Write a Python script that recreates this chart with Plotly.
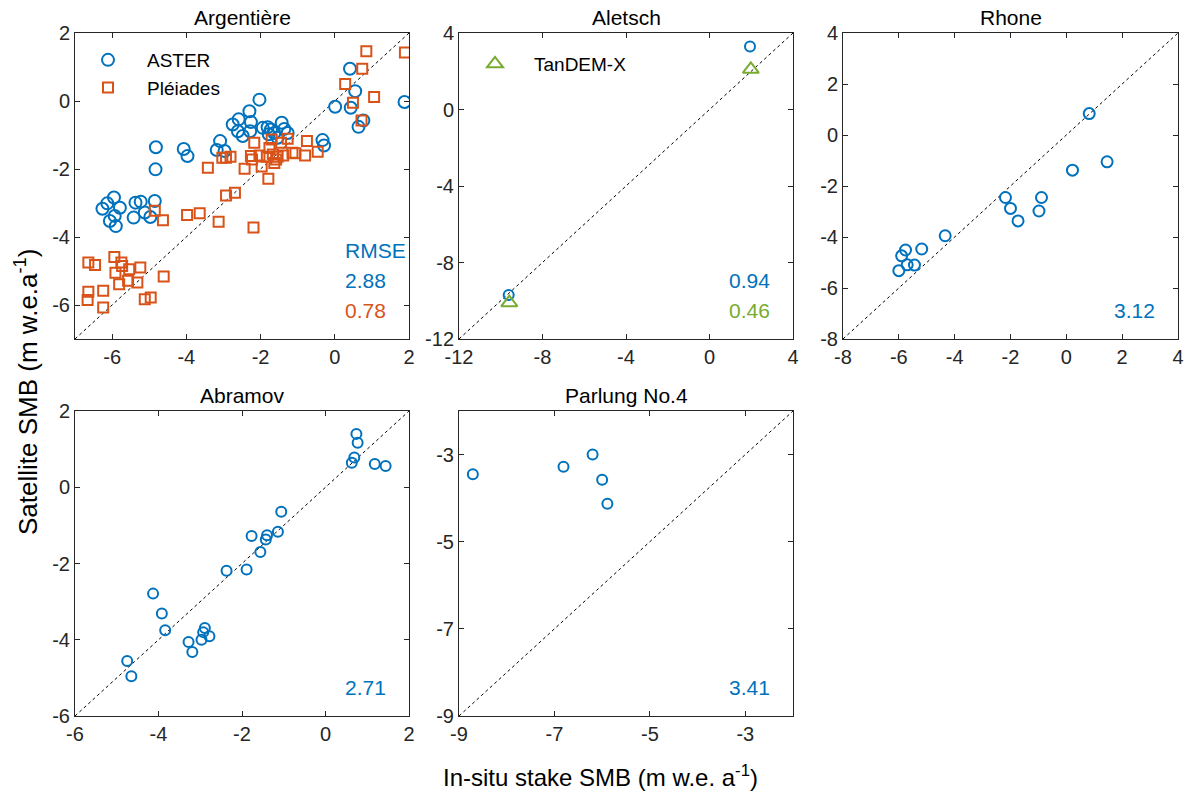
import plotly.graph_objects as go

BLUE = "#0072BD"
ORANGE = "#D95319"
GREEN = "#77AC30"
AX = "#262626"
FONT = "Liberation Sans, Arial, sans-serif"

# ---------------- data ----------------
panel_titles = ["Argentière", "Aletsch", "Rhone", "Abramov", "Parlung No.4"]

# Argentière
arg_aster_x = [-6.26, -6.13, -5.95, -6.06, -5.90, -5.93, -5.79, -5.42, -5.37, -5.23, -5.12, -4.97,
               -4.85, -4.82, -4.83, -4.07, -3.97, -3.09, -3.18, -2.97, -2.75, -2.59, -2.61, -2.48,
               -2.30, -2.26, -2.28, -2.03, -1.94, -1.81, -1.72, -1.63, -1.43, -1.36, -1.27, -1.54,
               -1.78, -0.33, -0.29, 0.01, 0.41, 0.43, 0.55, 0.64, 0.77, 1.88]
arg_aster_y = [-3.17, -3.01, -2.84, -3.53, -3.68, -3.38, -3.14, -3.43, -2.99, -2.96, -3.28, -3.41,
               -2.94, -1.36, -2.01, -1.41, -1.62, -1.18, -1.44, -1.47, -0.69, -0.54, -0.89, -1.03,
               -0.30, -0.62, -0.89, 0.04, -0.79, -0.77, -0.84, -0.94, -0.64, -0.82, -0.94, -1.08,
               -0.98, -1.15, -1.31, -0.17, 0.95, -0.20, 0.29, -0.76, -0.57, -0.03]
arg_pleiades_x = [-6.64, -6.46, -6.64, -6.66, -6.24, -6.24, -5.94, -5.91, -5.75, -5.73, -5.54, -5.81,
                  -5.57, -5.32, -5.24, -5.12, -4.96, -4.85, -4.63, -4.61, -3.98, -3.64, -3.42, -3.13,
                  -3.03, -2.93, -2.81, -2.93, -2.69, -2.43, -2.26, -2.23, -2.17, -2.19, -2.03, -1.97,
                  -1.83, -1.79, -1.76, -1.70, -1.67, -1.63, -1.58, -1.54, -1.45, -1.39, -1.27, -1.14,
                  -1.06, -0.80, -0.75, -0.46, 0.28, 0.49, 0.72, 0.74, 0.85, 1.06, 1.89]
arg_pleiades_y = [-4.75, -4.82, -5.61, -5.85, -5.58, -6.07, -4.59, -5.05, -4.75, -4.85, -4.95, -5.39,
                  -5.29, -5.34, -4.90, -5.83, -5.78, -3.23, -3.51, -5.16, -3.35, -3.30, -1.96, -3.55,
                  -1.67, -1.67, -1.64, -2.78, -2.70, -1.99, -1.62, -1.72, -1.23, -3.72, -1.60, -1.93,
                  -1.64, -2.29, -1.38, -1.13, -1.57, -1.82, -1.72, -1.64, -1.23, -1.60, -1.11, -1.52,
                  -1.54, -1.60, -1.18, -1.49, 0.50, -0.05, -0.57, 0.95, 1.46, 0.12, 1.43]

# Aletsch
ale_aster_x = [1.94, -9.62]
ale_aster_y = [3.30, -9.70]
ale_tandem_x = [1.98, -9.59]
ale_tandem_y = [2.10, -10.10]

# Rhone
rho_x = [0.82, 1.46, 0.22, -0.89, -0.98, -2.18, -2.00, -1.73, -4.34, -5.18, -5.76, -5.90, -5.70, -5.44, -6.00]
rho_y = [0.84, -1.05, -1.38, -2.45, -2.98, -2.45, -2.88, -3.37, -3.95, -4.47, -4.51, -4.74, -5.09, -5.10, -5.32]

# Abramov
abr_x = [0.74, 0.77, 0.69, 0.63, 1.18, 1.44, -1.06, -1.14, -1.40, -1.43, -1.77, -1.56, -2.37, -1.89,
         -4.13, -3.92, -3.84, -3.28, -3.19, -2.89, -2.93, -2.97, -2.78, -4.75, -4.65]
abr_y = [1.40, 1.17, 0.78, 0.64, 0.61, 0.56, -0.64, -1.17, -1.26, -1.37, -1.28, -1.70, -2.19, -2.16,
         -2.79, -3.31, -3.75, -4.06, -4.32, -3.69, -3.80, -4.00, -3.91, -4.56, -4.96]

# Parlung No.4
par_x = [-8.71, -6.81, -6.20, -6.00, -5.89]
par_y = [-3.45, -3.28, -3.00, -3.58, -4.13]

# axis limits and ticks per panel
ranges = [[-7, 2], [-12, 4], [-8, 4], [-6, 2], [-9, -2]]
tickvals = [[-6, -4, -2, 0, 2], [-12, -8, -4, 0, 4], [-8, -6, -4, -2, 0, 2, 4],
            [-6, -4, -2, 0, 2], [-9, -7, -5, -3]]

# RMSE labels: (text, colour) per panel
rmse = [
    [("RMSE", BLUE), ("2.88", BLUE), ("0.78", ORANGE)],
    [("0.94", BLUE), ("0.46", GREEN)],
    [("3.12", BLUE)],
    [("2.71", BLUE)],
    [("3.41", BLUE)],
]

# ---------------- layout geometry ----------------
W, H = 1192, 799
cols = [(75, 409), (459, 793), (843, 1178)]
rows = [(33, 339), (411, 716)]
panel_pos = [(0, 0), (0, 1), (0, 2), (1, 0), (1, 1)]

fig = go.Figure()

def sfx(i):
    return "" if i == 0 else str(i + 1)

for i, (r, c) in enumerate(panel_pos):
    x0, x1 = cols[c]
    y0, y1 = rows[r]
    common = dict(
        showline=True, linecolor=AX, linewidth=1, mirror="ticks",
        ticks="inside", ticklen=5, tickcolor=AX, tickwidth=1,
        showgrid=False, zeroline=False, automargin=False,
        tickfont=dict(family=FONT, size=20, color=AX),
        tickmode="array", tickvals=tickvals[i],
        ticktext=[str(v) for v in tickvals[i]],
        range=ranges[i], fixedrange=True,
    )
    fig.layout["xaxis" + sfx(i)] = dict(
        common, domain=[x0 / W, x1 / W], anchor="y" + sfx(i))
    fig.layout["yaxis" + sfx(i)] = dict(
        common, domain=[1 - y1 / H, 1 - y0 / H], anchor="x" + sfx(i))

def add(x, y, i, color, symbol, size, name=None, legend=None):
    fig.add_trace(go.Scatter(
        x=x, y=y, mode="markers", xaxis="x" + sfx(i), yaxis="y" + sfx(i),
        marker=dict(symbol=symbol, size=size, color=color, line=dict(color=color, width=2)),
        name=name or "data", showlegend=legend is not None, legend=legend or "legend",
    ))

# 1:1 lines
for i in range(5):
    lo, hi = ranges[i]
    fig.add_trace(go.Scatter(
        x=[lo, hi], y=[lo, hi], mode="lines", xaxis="x" + sfx(i), yaxis="y" + sfx(i),
        name="1:1", line=dict(color="black", width=1, dash="dot"), showlegend=False, hoverinfo="skip"))

add(arg_aster_x, arg_aster_y, 0, BLUE, "circle-open", 12, "ASTER", "legend")
add(arg_pleiades_x, arg_pleiades_y, 0, ORANGE, "square-open", 10, "Pléiades", "legend")
add(ale_aster_x, ale_aster_y, 1, BLUE, "circle-open", 10)
add(ale_tandem_x, ale_tandem_y, 1, GREEN, "triangle-up-open", 14, "TanDEM-X", "legend2")
add(rho_x, rho_y, 2, BLUE, "circle-open", 11)
add(abr_x, abr_y, 3, BLUE, "circle-open", 10)
add(par_x, par_y, 4, BLUE, "circle-open", 10)

ann = []
for i in range(5):
    ann.append(dict(text=panel_titles[i], xref="x" + sfx(i) + " domain", yref="y" + sfx(i) + " domain",
                    x=0.5, y=1, xanchor="center", yanchor="bottom", yshift=2, showarrow=False,
                    font=dict(family=FONT, size=21, color="black")))
    r, c = panel_pos[i]
    ph = rows[r][1] - rows[r][0]
    items = rmse[i]
    n = len(items)
    for k, (t, col) in enumerate(items):
        from_bottom = 29 + (n - 1 - k) * 30
        ann.append(dict(text=t, xref="x" + sfx(i) + " domain", yref="y" + sfx(i) + " domain",
                        x=0.802, y=from_bottom / ph, xanchor="left", yanchor="middle",
                        showarrow=False, font=dict(family=FONT, size=21, color=col)))

ann.append(dict(text="Satellite SMB (m w.e.a<sup>-1</sup>)", xref="paper", yref="paper",
                x=26 / W, y=1 - 392 / H, xanchor="center", yanchor="middle", textangle=-90,
                showarrow=False, font=dict(family=FONT, size=26, color="black")))
ann.append(dict(text="In-situ stake SMB (m w.e. a<sup>-1</sup>)", xref="paper", yref="paper",
                x=600 / W, y=1 - 776 / H, xanchor="center", yanchor="middle",
                showarrow=False, font=dict(family=FONT, size=24, color="black")))

fig.update_layout(
    width=W, height=H, autosize=False,
    margin=dict(l=0, r=0, t=0, b=0, autoexpand=False),
    paper_bgcolor="white", plot_bgcolor="white",
    annotations=ann,
    legend=dict(x=69 / W, y=1 - 41 / H, xanchor="left", yanchor="top",
                bgcolor="rgba(0,0,0,0)", borderwidth=0, itemwidth=68,
                font=dict(family=FONT, size=19, color="black"), tracegroupgap=0),
    legend2=dict(x=456 / W, y=1 - 45 / H, xanchor="left", yanchor="top",
                 bgcolor="rgba(0,0,0,0)", borderwidth=0, itemwidth=68,
                 font=dict(family=FONT, size=19, color="black")),
    showlegend=True,
)

fig.write_html("out.html")
